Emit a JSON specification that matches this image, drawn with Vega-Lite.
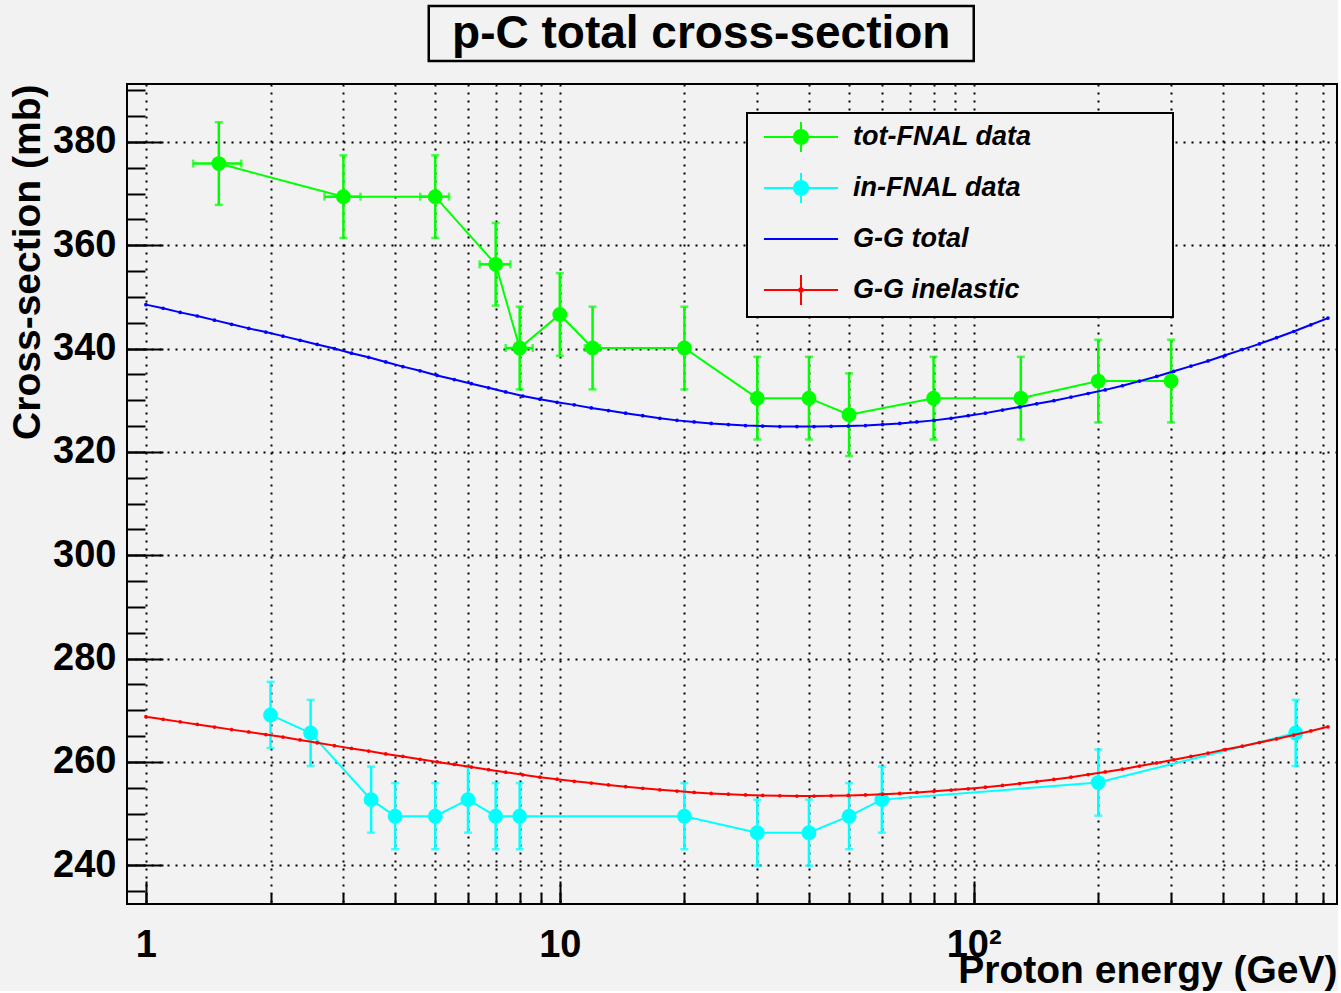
{
  "$schema": "https://vega.github.io/schema/vega-lite/v6.json",
  "background": "#f2f2f2",
  "padding": {"left": 6, "top": 4, "right": 0, "bottom": 0},
  "config": {
    "view": {"stroke": "black", "strokeWidth": 2, "fill": "#f2f2f2"},
    "font": "Liberation Sans"
  },
  "datasets": {
    "pts": [
      {"series": "tot-FNAL data", "E": 1.5, "sigma": 375.8, "err": 8, "xerr": 0.2},
      {"series": "tot-FNAL data", "E": 3, "sigma": 369.4, "err": 8, "xerr": 0.3},
      {"series": "tot-FNAL data", "E": 5, "sigma": 369.4, "err": 8, "xerr": 0.4},
      {"series": "tot-FNAL data", "E": 7, "sigma": 356.3, "err": 8, "xerr": 0.6},
      {"series": "tot-FNAL data", "E": 8, "sigma": 340.1, "err": 8, "xerr": 0.6},
      {"series": "tot-FNAL data", "E": 10, "sigma": 346.6, "err": 8, "xerr": 0},
      {"series": "tot-FNAL data", "E": 12, "sigma": 340.1, "err": 8, "xerr": 0.5},
      {"series": "tot-FNAL data", "E": 20, "sigma": 340.1, "err": 8, "xerr": 0},
      {"series": "tot-FNAL data", "E": 30, "sigma": 330.4, "err": 8, "xerr": 0},
      {"series": "tot-FNAL data", "E": 40, "sigma": 330.4, "err": 8, "xerr": 0},
      {"series": "tot-FNAL data", "E": 50, "sigma": 327.2, "err": 8, "xerr": 0},
      {"series": "tot-FNAL data", "E": 80, "sigma": 330.4, "err": 8, "xerr": 0},
      {"series": "tot-FNAL data", "E": 130, "sigma": 330.4, "err": 8, "xerr": 0},
      {"series": "tot-FNAL data", "E": 200, "sigma": 333.7, "err": 8, "xerr": 0},
      {"series": "tot-FNAL data", "E": 300, "sigma": 333.7, "err": 8, "xerr": 0},
      {"series": "in-FNAL data", "E": 2, "sigma": 269.1, "err": 6.4, "xerr": 0},
      {"series": "in-FNAL data", "E": 2.5, "sigma": 265.6, "err": 6.4, "xerr": 0},
      {"series": "in-FNAL data", "E": 3.5, "sigma": 252.7, "err": 6.4, "xerr": 0},
      {"series": "in-FNAL data", "E": 4, "sigma": 249.5, "err": 6.4, "xerr": 0},
      {"series": "in-FNAL data", "E": 5, "sigma": 249.5, "err": 6.4, "xerr": 0},
      {"series": "in-FNAL data", "E": 6, "sigma": 252.7, "err": 6.4, "xerr": 0},
      {"series": "in-FNAL data", "E": 7, "sigma": 249.5, "err": 6.4, "xerr": 0},
      {"series": "in-FNAL data", "E": 8, "sigma": 249.5, "err": 6.4, "xerr": 0},
      {"series": "in-FNAL data", "E": 20, "sigma": 249.5, "err": 6.4, "xerr": 0},
      {"series": "in-FNAL data", "E": 30, "sigma": 246.3, "err": 6.4, "xerr": 0},
      {"series": "in-FNAL data", "E": 40, "sigma": 246.3, "err": 6.4, "xerr": 0},
      {"series": "in-FNAL data", "E": 50, "sigma": 249.5, "err": 6.4, "xerr": 0},
      {"series": "in-FNAL data", "E": 60, "sigma": 252.7, "err": 6.4, "xerr": 0},
      {"series": "in-FNAL data", "E": 200, "sigma": 256.0, "err": 6.4, "xerr": 0},
      {"series": "in-FNAL data", "E": 600, "sigma": 265.6, "err": 6.4, "xerr": 0}
    ],
    "curves": [
      {"series": "G-G total", "E": 1, "sigma": 348.5},
      {"series": "G-G total", "E": 1.1, "sigma": 347.8},
      {"series": "G-G total", "E": 1.21, "sigma": 347.0},
      {"series": "G-G total", "E": 1.331, "sigma": 346.3},
      {"series": "G-G total", "E": 1.4641, "sigma": 345.5},
      {"series": "G-G total", "E": 1.6105, "sigma": 344.7},
      {"series": "G-G total", "E": 1.7716, "sigma": 343.9},
      {"series": "G-G total", "E": 1.9487, "sigma": 343.2},
      {"series": "G-G total", "E": 2.1436, "sigma": 342.4},
      {"series": "G-G total", "E": 2.3579, "sigma": 341.6},
      {"series": "G-G total", "E": 2.5937, "sigma": 340.8},
      {"series": "G-G total", "E": 2.8531, "sigma": 340.0},
      {"series": "G-G total", "E": 3.1384, "sigma": 339.1},
      {"series": "G-G total", "E": 3.4523, "sigma": 338.3},
      {"series": "G-G total", "E": 3.7975, "sigma": 337.4},
      {"series": "G-G total", "E": 4.1772, "sigma": 336.5},
      {"series": "G-G total", "E": 4.595, "sigma": 335.7},
      {"series": "G-G total", "E": 5.0545, "sigma": 334.8},
      {"series": "G-G total", "E": 5.5599, "sigma": 334.0},
      {"series": "G-G total", "E": 6.1159, "sigma": 333.2},
      {"series": "G-G total", "E": 6.7275, "sigma": 332.4},
      {"series": "G-G total", "E": 7.4002, "sigma": 331.6},
      {"series": "G-G total", "E": 8.1403, "sigma": 330.8},
      {"series": "G-G total", "E": 8.9543, "sigma": 330.2},
      {"series": "G-G total", "E": 9.8497, "sigma": 329.6},
      {"series": "G-G total", "E": 10.835, "sigma": 329.1},
      {"series": "G-G total", "E": 11.918, "sigma": 328.5},
      {"series": "G-G total", "E": 13.11, "sigma": 328.0},
      {"series": "G-G total", "E": 14.421, "sigma": 327.5},
      {"series": "G-G total", "E": 15.863, "sigma": 327.0},
      {"series": "G-G total", "E": 17.449, "sigma": 326.5},
      {"series": "G-G total", "E": 19.194, "sigma": 326.1},
      {"series": "G-G total", "E": 21.114, "sigma": 325.8},
      {"series": "G-G total", "E": 23.225, "sigma": 325.5},
      {"series": "G-G total", "E": 25.548, "sigma": 325.3},
      {"series": "G-G total", "E": 28.102, "sigma": 325.1},
      {"series": "G-G total", "E": 30.913, "sigma": 325.0},
      {"series": "G-G total", "E": 34.004, "sigma": 324.9},
      {"series": "G-G total", "E": 37.404, "sigma": 324.9},
      {"series": "G-G total", "E": 41.145, "sigma": 324.9},
      {"series": "G-G total", "E": 45.259, "sigma": 324.95},
      {"series": "G-G total", "E": 49.785, "sigma": 325.0},
      {"series": "G-G total", "E": 54.764, "sigma": 325.1},
      {"series": "G-G total", "E": 60.24, "sigma": 325.3},
      {"series": "G-G total", "E": 66.264, "sigma": 325.5},
      {"series": "G-G total", "E": 72.89, "sigma": 325.8},
      {"series": "G-G total", "E": 80.18, "sigma": 326.1},
      {"series": "G-G total", "E": 88.197, "sigma": 326.5},
      {"series": "G-G total", "E": 97.017, "sigma": 327.0},
      {"series": "G-G total", "E": 106.72, "sigma": 327.5},
      {"series": "G-G total", "E": 117.39, "sigma": 328.1},
      {"series": "G-G total", "E": 129.13, "sigma": 328.7},
      {"series": "G-G total", "E": 142.04, "sigma": 329.3},
      {"series": "G-G total", "E": 156.25, "sigma": 329.9},
      {"series": "G-G total", "E": 171.87, "sigma": 330.6},
      {"series": "G-G total", "E": 189.06, "sigma": 331.3},
      {"series": "G-G total", "E": 207.97, "sigma": 332.0},
      {"series": "G-G total", "E": 228.76, "sigma": 332.8},
      {"series": "G-G total", "E": 251.64, "sigma": 333.7},
      {"series": "G-G total", "E": 276.8, "sigma": 334.6},
      {"series": "G-G total", "E": 304.48, "sigma": 335.6},
      {"series": "G-G total", "E": 334.93, "sigma": 336.6},
      {"series": "G-G total", "E": 368.42, "sigma": 337.6},
      {"series": "G-G total", "E": 405.27, "sigma": 338.7},
      {"series": "G-G total", "E": 445.79, "sigma": 339.8},
      {"series": "G-G total", "E": 490.37, "sigma": 340.9},
      {"series": "G-G total", "E": 539.41, "sigma": 342.1},
      {"series": "G-G total", "E": 593.35, "sigma": 343.3},
      {"series": "G-G total", "E": 652.68, "sigma": 344.6},
      {"series": "G-G total", "E": 717.95, "sigma": 345.9},
      {"series": "G-G inelastic", "E": 1, "sigma": 268.75},
      {"series": "G-G inelastic", "E": 1.1, "sigma": 268.25},
      {"series": "G-G inelastic", "E": 1.21, "sigma": 267.75},
      {"series": "G-G inelastic", "E": 1.331, "sigma": 267.25},
      {"series": "G-G inelastic", "E": 1.4641, "sigma": 266.75},
      {"series": "G-G inelastic", "E": 1.6105, "sigma": 266.25},
      {"series": "G-G inelastic", "E": 1.7716, "sigma": 265.8},
      {"series": "G-G inelastic", "E": 1.9487, "sigma": 265.3},
      {"series": "G-G inelastic", "E": 2.1436, "sigma": 264.8},
      {"series": "G-G inelastic", "E": 2.3579, "sigma": 264.25},
      {"series": "G-G inelastic", "E": 2.5937, "sigma": 263.7},
      {"series": "G-G inelastic", "E": 2.8531, "sigma": 263.15},
      {"series": "G-G inelastic", "E": 3.1384, "sigma": 262.6},
      {"series": "G-G inelastic", "E": 3.4523, "sigma": 262.1},
      {"series": "G-G inelastic", "E": 3.7975, "sigma": 261.55},
      {"series": "G-G inelastic", "E": 4.1772, "sigma": 261.05},
      {"series": "G-G inelastic", "E": 4.595, "sigma": 260.5},
      {"series": "G-G inelastic", "E": 5.0545, "sigma": 260.0},
      {"series": "G-G inelastic", "E": 5.5599, "sigma": 259.5},
      {"series": "G-G inelastic", "E": 6.1159, "sigma": 259.0},
      {"series": "G-G inelastic", "E": 6.7275, "sigma": 258.5},
      {"series": "G-G inelastic", "E": 7.4002, "sigma": 258.0},
      {"series": "G-G inelastic", "E": 8.1403, "sigma": 257.5},
      {"series": "G-G inelastic", "E": 8.9543, "sigma": 257.05},
      {"series": "G-G inelastic", "E": 9.8497, "sigma": 256.65},
      {"series": "G-G inelastic", "E": 10.835, "sigma": 256.25},
      {"series": "G-G inelastic", "E": 11.918, "sigma": 255.9},
      {"series": "G-G inelastic", "E": 13.11, "sigma": 255.55},
      {"series": "G-G inelastic", "E": 14.421, "sigma": 255.2},
      {"series": "G-G inelastic", "E": 15.863, "sigma": 254.9},
      {"series": "G-G inelastic", "E": 17.449, "sigma": 254.6},
      {"series": "G-G inelastic", "E": 19.194, "sigma": 254.35},
      {"series": "G-G inelastic", "E": 21.114, "sigma": 254.1},
      {"series": "G-G inelastic", "E": 23.225, "sigma": 253.9},
      {"series": "G-G inelastic", "E": 25.548, "sigma": 253.75},
      {"series": "G-G inelastic", "E": 28.102, "sigma": 253.6},
      {"series": "G-G inelastic", "E": 30.913, "sigma": 253.5},
      {"series": "G-G inelastic", "E": 34.004, "sigma": 253.45},
      {"series": "G-G inelastic", "E": 37.404, "sigma": 253.4},
      {"series": "G-G inelastic", "E": 41.145, "sigma": 253.4},
      {"series": "G-G inelastic", "E": 45.259, "sigma": 253.45},
      {"series": "G-G inelastic", "E": 49.785, "sigma": 253.5},
      {"series": "G-G inelastic", "E": 54.764, "sigma": 253.6},
      {"series": "G-G inelastic", "E": 60.24, "sigma": 253.75},
      {"series": "G-G inelastic", "E": 66.264, "sigma": 253.9},
      {"series": "G-G inelastic", "E": 72.89, "sigma": 254.1},
      {"series": "G-G inelastic", "E": 80.18, "sigma": 254.3},
      {"series": "G-G inelastic", "E": 88.197, "sigma": 254.55},
      {"series": "G-G inelastic", "E": 97.017, "sigma": 254.8},
      {"series": "G-G inelastic", "E": 106.72, "sigma": 255.1},
      {"series": "G-G inelastic", "E": 117.39, "sigma": 255.45},
      {"series": "G-G inelastic", "E": 129.13, "sigma": 255.8},
      {"series": "G-G inelastic", "E": 142.04, "sigma": 256.2},
      {"series": "G-G inelastic", "E": 156.25, "sigma": 256.6},
      {"series": "G-G inelastic", "E": 171.87, "sigma": 257.05},
      {"series": "G-G inelastic", "E": 189.06, "sigma": 257.55},
      {"series": "G-G inelastic", "E": 207.97, "sigma": 258.05},
      {"series": "G-G inelastic", "E": 228.76, "sigma": 258.6},
      {"series": "G-G inelastic", "E": 251.64, "sigma": 259.2},
      {"series": "G-G inelastic", "E": 276.8, "sigma": 259.8},
      {"series": "G-G inelastic", "E": 304.48, "sigma": 260.4},
      {"series": "G-G inelastic", "E": 334.93, "sigma": 261.05},
      {"series": "G-G inelastic", "E": 368.42, "sigma": 261.7},
      {"series": "G-G inelastic", "E": 405.27, "sigma": 262.4},
      {"series": "G-G inelastic", "E": 445.79, "sigma": 263.05},
      {"series": "G-G inelastic", "E": 490.37, "sigma": 263.75},
      {"series": "G-G inelastic", "E": 539.41, "sigma": 264.45},
      {"series": "G-G inelastic", "E": 593.35, "sigma": 265.2},
      {"series": "G-G inelastic", "E": 652.68, "sigma": 266.0},
      {"series": "G-G inelastic", "E": 717.95, "sigma": 266.8}
    ]
  },
  "vconcat": [
    {
      "hconcat": [
        {
          "width": 545,
          "height": 55,
          "view": {"stroke": "black", "strokeWidth": 2.5, "fill": "#f2f2f2"},
          "data": {"values": [{"t": "p-C total cross-section"}]},
          "mark": {"type": "text", "font": "Liberation Sans", "fontSize": 46, "fontWeight": "bold", "align": "center", "baseline": "middle", "color": "black"},
          "encoding": {"text": {"field": "t"}}
        },
        {
          "width": 35,
          "height": 55,
          "view": {"stroke": "transparent", "fill": "transparent"},
          "data": {"values": [{"t": 0}]},
          "mark": {"type": "point", "opacity": 0}
        }
      ],
      "spacing": 24
    },
    {
      "width": 1210,
      "height": 820,
      "resolve": {"axis": {"x": "independent", "y": "independent"}},
      "layer": [
        {
          "data": {"name": "pts"},
          "mark": {"type": "errorbar", "thickness": 2.5, "ticks": {"size": 8, "thickness": 2.5}},
          "encoding": {
            "x": {"field": "E", "type": "quantitative", "scale": {"type": "log", "domain": [0.9, 755], "nice": false}, "axis": null},
            "y": {"field": "sigma", "type": "quantitative", "scale": {"domain": [232.5, 391.2], "nice": false, "zero": false}, "axis": null},
            "yError": {"field": "err"},
            "color": {"field": "series", "type": "nominal"}
          }
        },
        {
          "data": {"name": "pts"},
          "transform": [{"filter": "datum.xerr > 0"}],
          "mark": {"type": "errorbar", "thickness": 2.5, "ticks": {"size": 8, "thickness": 2.5}},
          "encoding": {
            "x": {"field": "E", "type": "quantitative", "axis": null},
            "xError": {"field": "xerr"},
            "y": {"field": "sigma", "type": "quantitative", "axis": null},
            "color": {"field": "series", "type": "nominal"}
          }
        },
        {
          "data": {"name": "pts"},
          "mark": {"type": "line", "strokeWidth": 2},
          "encoding": {
            "x": {"field": "E", "type": "quantitative", "scale": {"type": "log", "domain": [0.9, 755], "nice": false},
              "axis": {"orient": "bottom", "values": [1, 2, 3, 4, 5, 6, 7, 8, 9, 10, 20, 30, 40, 50, 60, 70, 80, 90, 100, 200, 300, 400, 500, 600, 700],
                "labels": false, "tickSize": -11, "tickWidth": 2, "tickColor": "black", "domain": false,
                "grid": true, "gridColor": "black", "gridDash": [2, 6], "gridWidth": 2, "title": null}},
            "y": {"field": "sigma", "type": "quantitative", "scale": {"domain": [232.5, 391.2], "nice": false, "zero": false},
              "axis": {"orient": "left", "values": [235, 240, 245, 250, 255, 260, 265, 270, 275, 280, 285, 290, 295, 300, 305, 310, 315, 320, 325, 330, 335, 340, 345, 350, 355, 360, 365, 370, 375, 380, 385, 390],
                "labels": false, "tickSize": -18, "tickWidth": 2, "tickColor": "black", "domain": false, "grid": false, "title": null}},
            "color": {"field": "series", "type": "nominal"}
          }
        },
        {
          "data": {"name": "pts"},
          "mark": {"type": "point", "shape": "circle", "filled": true, "size": 220, "opacity": 1},
          "encoding": {
            "x": {"field": "E", "type": "quantitative",
              "axis": {"orient": "bottom", "values": [1, 10, 100], "tickSize": -23, "tickWidth": 2, "tickColor": "black", "domain": false, "grid": false,
                "labelExpr": "datum.value >= 100 ? '10²' : datum.value >= 10 ? '10' : '1'",
                "labelFont": "Liberation Sans", "labelFontSize": 38, "labelFontWeight": "bold", "labelColor": "black",
                "labelPadding": 45, "labelBaseline": "top", "labelFlush": false, "labelOverlap": false,
                "title": "Proton energy (GeV)", "titleFont": "Liberation Sans", "titleFontSize": 39, "titleFontWeight": "bold", "titleColor": "black",
                "titleAnchor": "end", "titleAlign": "right", "titleBaseline": "alphabetic", "titleY": 78}},
            "y": {"field": "sigma", "type": "quantitative",
              "axis": {"orient": "left", "values": [240, 260, 280, 300, 320, 340, 360, 380], "tickSize": -36, "tickWidth": 2, "tickColor": "black", "domain": false,
                "grid": true, "gridColor": "black", "gridDash": [2, 6], "gridWidth": 2,
                "labelFont": "Liberation Sans", "labelFontSize": 38, "labelFontWeight": "bold", "labelColor": "black", "labelPadding": 47,
                "title": "Cross-section (mb)", "titleFont": "Liberation Sans", "titleFontSize": 39, "titleFontWeight": "bold", "titleColor": "black",
                "titleAnchor": "end", "titleAlign": "right", "titleBaseline": "alphabetic", "titleAngle": -90, "titleX": -88, "titleY": 0}},
            "color": {"field": "series", "type": "nominal"}
          }
        },
        {
          "data": {"name": "curves"},
          "mark": {"type": "line", "strokeWidth": 2, "point": {"filled": true, "size": 14}},
          "encoding": {
            "x": {"field": "E", "type": "quantitative", "axis": null},
            "y": {"field": "sigma", "type": "quantitative", "axis": null},
            "color": {"field": "series", "type": "nominal",
              "scale": {"domain": ["tot-FNAL data", "in-FNAL data", "G-G total", "G-G inelastic"], "range": ["#00ff00", "#00ffff", "#0000ff", "#ff0000"]},
              "legend": {"orient": "none", "legendX": 620, "legendY": 107, "title": null, "padding": 8,
                "fillColor": "#f2f2f2", "strokeColor": "black", "gridAlign": "all",
                "symbolSize": 900, "symbolStrokeWidth": 2, "symbolOffset": 30, "labelOffset": 36, "rowPadding": 13,
                "labelFont": "Liberation Sans", "labelFontSize": 27, "labelFontWeight": "bold", "labelFontStyle": "italic", "labelColor": "black", "labelLimit": 500,
                "encode": {
                  "legend": {"update": {"strokeWidth": {"value": 2}}},
                  "symbols": {
                    "update": {
                      "shape": {"signal": "datum.value === 'G-G total' ? 'M-2.47,0H2.47M24,0' : datum.value === 'G-G inelastic' ? 'M-2.47,0H2.47M0,-1V1M0.12,0A0.12,0.12 0 1,1 -0.12,0A0.12,0.12 0 1,1 0.12,0ZM24,0' : 'M-2.47,0H2.47M0,-1V1M0.47,0A0.47,0.47 0 1,1 -0.47,0A0.47,0.47 0 1,1 0.47,0ZM24,0'"},
                      "fill": {"signal": "scale('color', datum.value)"},
                      "stroke": {"signal": "scale('color', datum.value)"},
                      "strokeWidth": {"value": 2},
                      "opacity": {"value": 1}
                    }
                  }
                }
              }
            }
          }
        }
      ]
    }
  ],
  "spacing": 20,
  "center": true
}
